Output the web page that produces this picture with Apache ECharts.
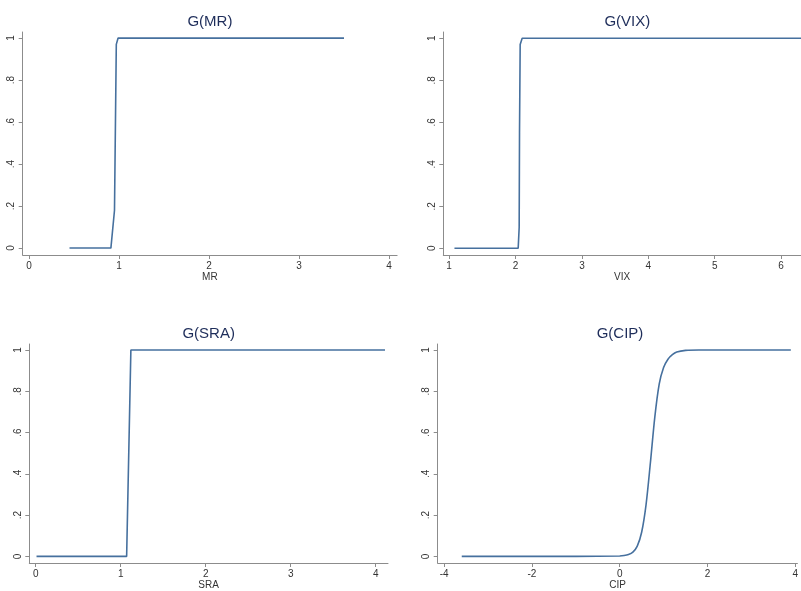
<!DOCTYPE html>
<html>
<head>
<meta charset="utf-8">
<script src="https://cdn.jsdelivr.net/npm/echarts@6/dist/echarts.min.js"></script>
<style>
  html, body { margin: 0; padding: 0; background: #fff; }
  #main { width: 801px; height: 591px; }
</style>
</head>
<body>
<div id="main"></div>
<script>
// values
var mrX = [0.45, 0.91, 0.95, 0.97, 0.99, 1.0, 3.5];
var mrY = [0, 0, 0.18, 0.97, 1, 1, 1];

var vixX = [1.08, 2.04, 2.055, 2.06, 2.07, 2.1, 6.4];
var vixY = [0, 0, 0.1, 0.55, 0.97, 1, 1];

var sraX = [0.01, 1.07, 1.12, 4.11];
var sraY = [0, 0, 1, 1];

var cipX = [-3.6, -1, 0, 0.1, 0.2, 0.3, 0.4, 0.5, 0.6, 0.7, 0.8, 0.9, 1.0, 1.1, 1.2, 1.3, 1.5, 1.8, 3.9];
var cipY = [0, 0, 0.002, 0.004, 0.009, 0.021, 0.05, 0.117, 0.25, 0.455, 0.675, 0.835, 0.915, 0.955, 0.977, 0.99, 0.998, 1, 1];

var titles = ['G(MR)', 'G(VIX)', 'G(SRA)', 'G(CIP)'];
var names = ['MR', 'VIX', 'SRA', 'CIP'];
var xTicks = [
  [0, 1, 2, 3, 4],
  [1, 2, 3, 4, 5, 6],
  [0, 1, 2, 3, 4],
  [-4, -2, 0, 2, 4]
];
var yTicks = [0, 0.2, 0.4, 0.6, 0.8, 1];

var panels = [
  {x: mrX, y: mrY},
  {x: vixX, y: vixY},
  {x: sraX, y: sraY},
  {x: cipX, y: cipY, smooth: true}
];

// layout of each panel (pixels / axis extents)
var boxes = [
  {left: 22.7, top: 32, width: 374.4, height: 223, xmin: -0.07, xmax: 4.09, ymin: -0.033, ymax: 1.029},
  {left: 443.3, top: 32, width: 368, height: 223, xmin: 0.912, xmax: 6.3, ymin: -0.032, ymax: 1.03},
  {left: 29.3, top: 344, width: 358.7, height: 220.3, xmin: -0.075, xmax: 4.145, ymin: -0.032, ymax: 1.029},
  {left: 437.7, top: 344, width: 364.6, height: 220.3, xmin: -4.148, xmax: 4.05, ymin: -0.032, ymax: 1.029}
];

var font = 'Liberation Sans, Arial, sans-serif';
var lineColor = '#46709e';
var axisColor = '#8c8c8c';

function yFmt(v) {
  if (v === 0) return '0';
  if (v === 1) return '1';
  return '.' + Math.round(v * 10);
}

var grid = [], xAxis = [], yAxis = [], series = [], title = [];

panels.forEach(function (p, i) {
  var b = boxes[i];
  grid.push({left: b.left, top: b.top, width: b.width, height: b.height, containLabel: false});
  title.push({
    text: titles[i],
    left: b.left + b.width / 2,
    top: b.top - 18,
    textAlign: 'center',
    padding: 0,
    textStyle: {fontFamily: font, fontSize: 15, fontWeight: 'normal', color: '#1e2d5a'}
  });
  xAxis.push({
    type: 'value', gridIndex: i, min: b.xmin, max: b.xmax,
    name: names[i], nameLocation: 'middle', nameGap: 17,
    nameTextStyle: {fontFamily: font, fontSize: 10, color: '#333'},
    axisLine: {show: true, onZero: false, lineStyle: {color: axisColor, width: 1}},
    axisTick: {show: true, length: 4, customValues: xTicks[i], lineStyle: {color: axisColor}},
    axisLabel: {customValues: xTicks[i], margin: 6, fontFamily: font, fontSize: 10, color: '#333'},
    splitLine: {show: false}
  });
  yAxis.push({
    type: 'value', gridIndex: i, min: b.ymin, max: b.ymax,
    axisLine: {show: true, onZero: false, lineStyle: {color: axisColor, width: 1}},
    axisTick: {show: true, length: 4, customValues: yTicks, lineStyle: {color: axisColor}},
    axisLabel: {customValues: yTicks, rotate: 90, margin: 6, fontFamily: font, fontSize: 10, color: '#333', formatter: yFmt},
    splitLine: {show: false}
  });
  series.push({
    type: 'line', xAxisIndex: i, yAxisIndex: i,
    data: p.x.map(function (v, k) { return [v, p.y[k]]; }),
    showSymbol: false, smooth: p.smooth ? 0.3 : false,
    lineStyle: {color: lineColor, width: 1.6},
    animation: false
  });
});

var chart = echarts.init(document.getElementById('main'), null, {renderer: 'canvas'});
chart.setOption({
  backgroundColor: '#fff',
  animation: false,
  title: title,
  grid: grid,
  xAxis: xAxis,
  yAxis: yAxis,
  series: series
});
</script>
</body>
</html>
